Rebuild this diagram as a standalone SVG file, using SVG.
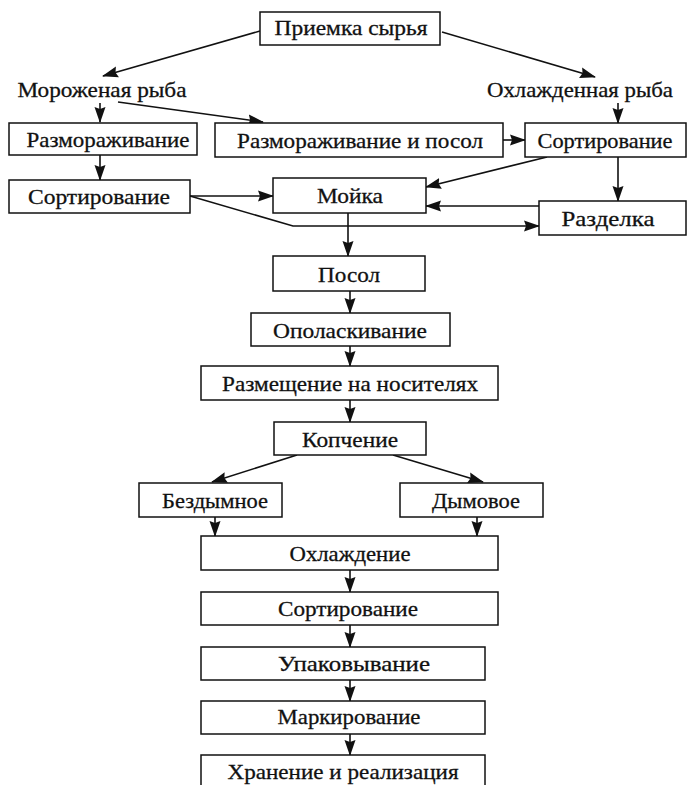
<svg xmlns="http://www.w3.org/2000/svg" width="687" height="785" viewBox="0 0 687 785">
<style>
rect{fill:#fff;stroke:#111;stroke-width:1.5}
text{font-family:"Liberation Serif","Times New Roman",serif;font-size:22px;fill:#111;stroke:#111;stroke-width:0.3;text-anchor:middle}
.c path{fill:none;stroke:#111;stroke-width:1.6;marker-end:url(#a)}
</style>
<defs>
<marker id="a" markerUnits="userSpaceOnUse" markerWidth="16" markerHeight="12" refX="15" refY="6" orient="auto">
<path d="M0,0.5 L16,6 L0,11.5 L2,6 Z" fill="#111"/>
</marker>
</defs>
<rect x="0" y="0" width="687" height="785" style="stroke:none"/>
<g class="c">
<path d="M260,31 L103,76"/>
<path d="M442,32 L595,77"/>
<path d="M100,103 L100,122"/>
<path d="M118,102 L263,122"/>
<path d="M100,155 L100,180"/>
<path d="M190,196 L273,196"/>
<path d="M190,196 L293,226 L539,226"/>
<path d="M618,103 L618,123"/>
<path d="M503,140 L525,140"/>
<path d="M547,157 L426,187"/>
<path d="M618,157 L618,201"/>
<path d="M539,206 L426,206"/>
<path d="M348,213 L348,256"/>
<path d="M350,291 L350,313"/>
<path d="M350,346 L350,366"/>
<path d="M350,400 L350,422"/>
<path d="M297,455 L212,482"/>
<path d="M393,455 L483,482"/>
<path d="M215,517 L215,536"/>
<path d="M477,517 L477,536"/>
<path d="M350,570 L350,592"/>
<path d="M350,625 L350,647"/>
<path d="M350,680 L350,701"/>
<path d="M350,734 L350,755"/>
</g>
<g id="priemka"><rect x="260" y="12" width="180" height="33"/><text x="351" y="34.5" textLength="153" lengthAdjust="spacingAndGlyphs">Приемка сырья</text></g>
<g id="morozh"><text x="102" y="97" textLength="169" lengthAdjust="spacingAndGlyphs">Мороженая рыба</text></g>
<g id="ohlazh"><text x="580" y="97" textLength="186" lengthAdjust="spacingAndGlyphs">Охлажденная рыба</text></g>
<g id="razmor"><rect x="9" y="123" width="188" height="32"/><text x="108" y="146.5" textLength="163" lengthAdjust="spacingAndGlyphs">Размораживание</text></g>
<g id="razmor-posol"><rect x="215" y="123" width="288" height="34"/><text x="360" y="147.5" textLength="246" lengthAdjust="spacingAndGlyphs">Размораживание и посол</text></g>
<g id="sort-r"><rect x="525" y="123" width="161" height="34"/><text x="605" y="147.5" textLength="135" lengthAdjust="spacingAndGlyphs">Сортирование</text></g>
<g id="sort-l"><rect x="9" y="180" width="181" height="33"/><text x="99" y="203.5" textLength="142" lengthAdjust="spacingAndGlyphs">Сортирование</text></g>
<g id="moyka"><rect x="273" y="178" width="153" height="35"/><text x="350" y="202.5" textLength="66" lengthAdjust="spacingAndGlyphs">Мойка</text></g>
<g id="razdelka"><rect x="539" y="201" width="147" height="34"/><text x="608" y="225.5" textLength="93" lengthAdjust="spacingAndGlyphs">Разделка</text></g>
<g id="posol"><rect x="273" y="256" width="152" height="35"/><text x="349" y="281.5" textLength="62" lengthAdjust="spacingAndGlyphs">Посол</text></g>
<g id="opolask"><rect x="251" y="313" width="199" height="33"/><text x="350" y="337.5" textLength="154" lengthAdjust="spacingAndGlyphs">Ополаскивание</text></g>
<g id="razmesch"><rect x="201" y="366" width="297" height="34"/><text x="350" y="390.5" textLength="256" lengthAdjust="spacingAndGlyphs">Размещение на носителях</text></g>
<g id="kopch"><rect x="274" y="422" width="152" height="33"/><text x="350" y="446.5" textLength="96" lengthAdjust="spacingAndGlyphs">Копчение</text></g>
<g id="bezdym"><rect x="139" y="483" width="143" height="34"/><text x="215" y="507.5" textLength="106" lengthAdjust="spacingAndGlyphs">Бездымное</text></g>
<g id="dymov"><rect x="400" y="483" width="143" height="34"/><text x="476" y="507.5" textLength="88" lengthAdjust="spacingAndGlyphs">Дымовое</text></g>
<g id="ohlazhd"><rect x="201" y="536" width="297" height="34"/><text x="350" y="560.5" textLength="121" lengthAdjust="spacingAndGlyphs">Охлаждение</text></g>
<g id="sort2"><rect x="201" y="592" width="297" height="33"/><text x="348" y="615.5" textLength="140" lengthAdjust="spacingAndGlyphs">Сортирование</text></g>
<g id="upak"><rect x="201" y="647" width="284" height="33"/><text x="354" y="670.5" textLength="152" lengthAdjust="spacingAndGlyphs">Упаковывание</text></g>
<g id="mark"><rect x="201" y="701" width="284" height="33"/><text x="349" y="723.5" textLength="143" lengthAdjust="spacingAndGlyphs">Маркирование</text></g>
<g id="hran"><rect x="201" y="755" width="284" height="40"/><text x="343" y="779" textLength="231" lengthAdjust="spacingAndGlyphs">Хранение и реализация</text></g>
</svg>
